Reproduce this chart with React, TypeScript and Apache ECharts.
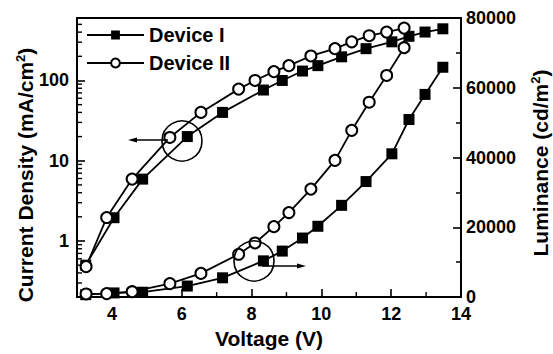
import React, { useEffect, useRef } from 'react';
import * as echarts from 'echarts';

// Device I (filled squares)
const voltageI = [3.25, 4.06, 4.88, 6.16, 7.17, 8.34, 8.88, 9.46, 9.9, 10.58, 11.28, 12.02, 12.51, 12.97, 13.48];
const currentI = [0.5, 1.95, 5.9, 20, 40, 76, 100, 131, 153, 197, 249, 303, 355, 401, 440];
const luminanceI = [700, 1200, 1400, 3170, 5530, 10390, 13190, 16930, 20300, 26300, 33120, 41070, 50900, 58100, 65880];

// Device II (open circles)
const voltageII = [3.26, 3.85, 4.58, 5.66, 6.55, 7.63, 8.1, 8.64, 9.07, 9.7, 10.39, 10.87, 11.37, 11.87, 12.37];
const currentII = [0.48, 1.96, 5.9, 19.5, 40, 78, 100, 129, 153, 202, 249, 303, 361, 401, 449];
const luminanceII = [900, 1000, 1550, 3850, 6800, 12270, 15520, 20200, 24230, 30960, 39200, 47800, 55860, 63530, 71490];

// axis tick definitions
const logMinorTicks = [0.3, 0.4, 0.5, 0.6, 0.7, 0.8, 0.9, 2, 3, 4, 5, 6, 7, 8, 9, 20, 30, 40, 50, 60, 70, 80, 90, 200, 300, 400, 500];
const xMinorTicks = [5, 7, 9, 11, 13];
const seriesNames = ['Device I', 'Device II'];

const FONT = '"Liberation Sans", Arial, Helvetica, sans-serif';

export default function App() {
  const ref = useRef<HTMLDivElement>(null);

  useEffect(() => {
    if (!ref.current) return;
    const chart = echarts.init(ref.current, undefined, { renderer: 'svg' });
    const pairs = (xs: number[], ys: number[]) => xs.map((x, i) => [x, ys[i]]);

    const lineCommon = {
      type: 'line' as const,
      xAxisIndex: 0,
      symbolSize: 11,
      lineStyle: { color: '#000', width: 1.8 },
      emphasis: { disabled: true },
    };

    // minor ticks drawn inward: 'h' to the right of the left axis, 'v' upward from the bottom axis
    const tickSeries = (data: number[][], dir: 'h' | 'v') => ({
      type: 'custom' as const,
      xAxisIndex: 0,
      yAxisIndex: 0,
      silent: true,
      clip: false,
      z: 5,
      data,
      renderItem: (_params: any, api: any) => {
        const p = api.coord([api.value(0), api.value(1)]);
        const shape =
          dir === 'h'
            ? { x1: p[0], y1: p[1], x2: p[0] + 5, y2: p[1] }
            : { x1: p[0], y1: p[1], x2: p[0], y2: p[1] - 5 };
        return { type: 'line', shape, style: { stroke: '#000', lineWidth: 1.4 } };
      },
    });

    chart.setOption({
      animation: false,
      backgroundColor: '#fff',
      textStyle: { fontFamily: FONT, color: '#000' },
      grid: { left: 77, right: 92, top: 18, bottom: 51, containLabel: false },
      legend: {
        data: seriesNames,
        orient: 'vertical',
        left: 86,
        top: 25,
        padding: 0,
        itemWidth: 57,
        itemHeight: 11,
        itemGap: 8,
        textStyle: { fontFamily: FONT, fontWeight: 'bold', fontSize: 20, color: '#000' },
        selectedMode: false,
      },
      xAxis: [
        {
          type: 'value',
          min: 3,
          max: 14,
          position: 'bottom',
          name: 'Voltage (V)',
          nameLocation: 'middle',
          nameGap: 25,
          nameTextStyle: { fontFamily: FONT, fontWeight: 'bold', fontSize: 21, color: '#000' },
          axisLine: { show: true, lineStyle: { color: '#000', width: 2 } },
          axisTick: { show: true, inside: true, length: 8, lineStyle: { color: '#000', width: 1.6 } },
          axisLabel: {
            margin: 8,
            fontFamily: FONT,
            fontWeight: 'bold',
            fontSize: 18,
            color: '#000',
            formatter: (v: number) => (v === 3 ? '' : String(v)),
          },
          splitLine: { show: false },
        },
        {
          type: 'value',
          min: 3,
          max: 14,
          position: 'top',
          axisLine: { show: true, lineStyle: { color: '#000', width: 2 } },
          axisTick: { show: false },
          axisLabel: { show: false },
          splitLine: { show: false },
        },
      ],
      yAxis: [
        {
          type: 'log',
          logBase: 10,
          min: 0.2,
          max: 600,
          position: 'left',
          axisLine: { show: true, lineStyle: { color: '#000', width: 2 } },
          axisTick: { show: true, inside: true, length: 8, lineStyle: { color: '#000', width: 1.6 } },
          axisLabel: {
            margin: 8,
            fontFamily: FONT,
            fontWeight: 'bold',
            fontSize: 18,
            color: '#000',
            formatter: (v: number) => {
              const l = Math.log10(v);
              return Math.abs(l - Math.round(l)) < 1e-6 ? String(Math.round(v)) : '';
            },
          },
          splitLine: { show: false },
        },
        {
          type: 'value',
          min: 0,
          max: 80000,
          interval: 20000,
          position: 'right',
          axisLine: { show: true, lineStyle: { color: '#000', width: 2 } },
          axisTick: { show: true, inside: true, length: 8, lineStyle: { color: '#000', width: 1.6 } },
          minorTick: { show: true, splitNumber: 2, length: 5, lineStyle: { color: '#000', width: 1.5 } },
          axisLabel: {
            margin: 5,
            fontFamily: FONT,
            fontWeight: 'bold',
            fontSize: 18,
            color: '#000',
            formatter: (v: number) => String(v),
          },
          splitLine: { show: false },
          minorSplitLine: { show: false },
        },
      ],
      series: [
        tickSeries(logMinorTicks.map((v) => [3, v]), 'h'),
        tickSeries(xMinorTicks.map((v) => [v, 0.2]), 'v'),
        {
          ...lineCommon,
          name: 'Device I',
          yAxisIndex: 0,
          data: pairs(voltageI, currentI),
          symbol: 'rect',
          itemStyle: { color: '#000' },
          z: 3,
        },
        {
          ...lineCommon,
          name: 'Device II',
          yAxisIndex: 0,
          data: pairs(voltageII, currentII),
          symbol: 'emptyCircle',
          itemStyle: { color: '#000', borderColor: '#000', borderWidth: 1.5 },
          z: 4,
        },
        {
          ...lineCommon,
          name: 'Device I',
          yAxisIndex: 1,
          data: pairs(voltageI, luminanceI),
          symbol: 'rect',
          itemStyle: { color: '#000' },
          z: 3,
        },
        {
          ...lineCommon,
          name: 'Device II',
          yAxisIndex: 1,
          data: pairs(voltageII, luminanceII),
          symbol: 'emptyCircle',
          itemStyle: { color: '#000', borderColor: '#000', borderWidth: 1.5 },
          z: 4,
        },
      ],
      graphic: [
        {
          type: 'text',
          x: 25,
          y: 175,
          rotation: Math.PI / 2,
          style: {
            text: 'Current Density (mA/cm{sup|2})',
            fill: '#000',
            font: `bold 21px ${FONT}`,
            align: 'center',
            verticalAlign: 'middle',
            rich: {
              sup: { fontSize: 13, fontWeight: 'bold', fontFamily: FONT, fill: '#000', verticalAlign: 'top', padding: [0, 0, 10, 0] },
            },
          },
        },
        {
          type: 'text',
          x: 540,
          y: 163,
          rotation: Math.PI / 2,
          style: {
            text: 'Luminance (cd/m{sup|2})',
            fill: '#000',
            font: `bold 21px ${FONT}`,
            align: 'center',
            verticalAlign: 'middle',
            rich: {
              sup: { fontSize: 13, fontWeight: 'bold', fontFamily: FONT, fill: '#000', verticalAlign: 'top', padding: [0, 0, 10, 0] },
            },
          },
        },
        { type: 'circle', shape: { cx: 182, cy: 141, r: 20 }, style: { fill: 'none', stroke: '#000', lineWidth: 1.6 }, z: 10 },
        { type: 'line', shape: { x1: 168, y1: 140, x2: 132, y2: 140 }, style: { stroke: '#000', lineWidth: 1.4 }, z: 10 },
        { type: 'polygon', shape: { points: [[128, 140], [137, 137.5], [137, 142.5]] }, style: { fill: '#000' }, z: 10 },
        { type: 'circle', shape: { cx: 254, cy: 261, r: 20 }, style: { fill: 'none', stroke: '#000', lineWidth: 1.6 }, z: 10 },
        { type: 'line', shape: { x1: 262, y1: 266, x2: 302, y2: 266 }, style: { stroke: '#000', lineWidth: 1.4 }, z: 10 },
        { type: 'polygon', shape: { points: [[306, 266], [297, 263.5], [297, 268.5]] }, style: { fill: '#000' }, z: 10 },
      ],
    });

    return () => chart.dispose();
  }, []);

  return (
    <div
      ref={ref}
      style={{ position: 'absolute', left: 0, top: 0, width: 553, height: 354, background: '#fff' }}
    />
  );
}
